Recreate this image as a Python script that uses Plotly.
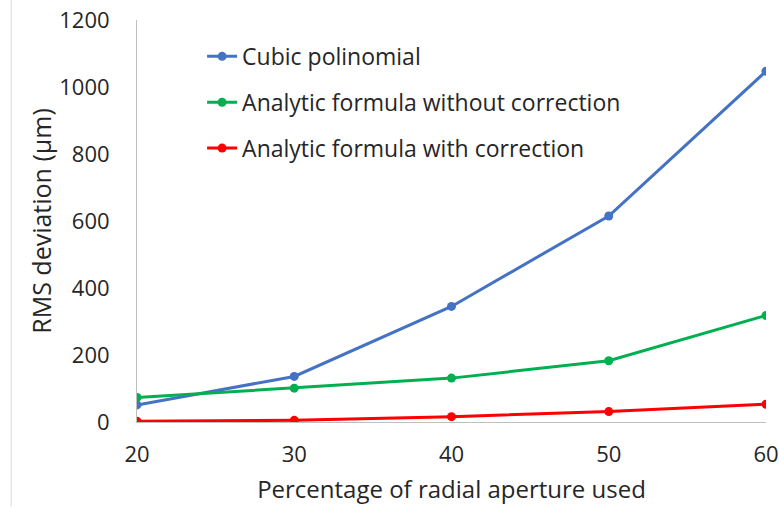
import plotly.graph_objects as go

aperture = [20, 30, 40, 50, 60]
cubic = [51, 136, 345, 615, 1047]
analytic_no_corr = [73, 101, 131, 183, 318]
analytic_corr = [2, 5, 16, 31, 53]

series_names = ["Cubic polinomial", "Analytic formula without correction", "Analytic formula with correction"]
series_values = [cubic, analytic_no_corr, analytic_corr]
colors = ["#4472C4", "#00B050", "#FF0000"]

FONT = "Open Sans, Lato, sans-serif"
TXT = "#262626"

fig = go.Figure()
for i, (name, vals, c) in enumerate(zip(series_names, series_values, colors)):
    fig.add_trace(go.Scatter(
        x=aperture, y=vals, name=name, mode="lines+markers",
        line=dict(color=c, width=3), marker=dict(color=c, size=9),
        legendgroup=f"g{i}",
    ))

fig.update_layout(
    width=779, height=510,
    margin=dict(l=137, r=13, t=20, b=88),
    paper_bgcolor="white", plot_bgcolor="white",
    font=dict(family=FONT, size=22, color=TXT),
    showlegend=True,
    legend=dict(x=0.1035, y=0.963, xanchor="left", yanchor="top",
                bgcolor="rgba(0,0,0,0)", font=dict(size=23, color=TXT),
                tracegroupgap=13, itemwidth=30),
    xaxis=dict(range=[20, 60], tickvals=aperture, showgrid=False, zeroline=False,
               showline=True, linecolor="#BFBFBF", linewidth=1,
               ticks="outside", ticklen=13, tickcolor="rgba(0,0,0,0)",
               tickfont=dict(size=22, color=TXT), automargin=False,
               title=dict(text="Percentage of radial aperture used", font=dict(size=24, color=TXT), standoff=13)),
    yaxis=dict(range=[0, 1200], tickvals=[0, 200, 400, 600, 800, 1000, 1200], showgrid=False, zeroline=False,
               showline=True, linecolor="#BFBFBF", linewidth=1,
               ticks="outside", ticklen=22, tickcolor="rgba(0,0,0,0)",
               tickfont=dict(size=22, color=TXT), automargin=False,
               title=dict(text="RMS deviation (µm)", font=dict(size=25, color=TXT), standoff=0)),
    shapes=[dict(type="line", xref="paper", yref="paper", x0=-0.2, x1=-0.2, y0=-0.21, y1=1.05,
                 line=dict(color="#D9D9D9", width=1))],
)

fig.write_html("out.html", config={"displayModeBar": False},
               post_script="document.body.style.margin='0';document.body.style.padding='0';")
